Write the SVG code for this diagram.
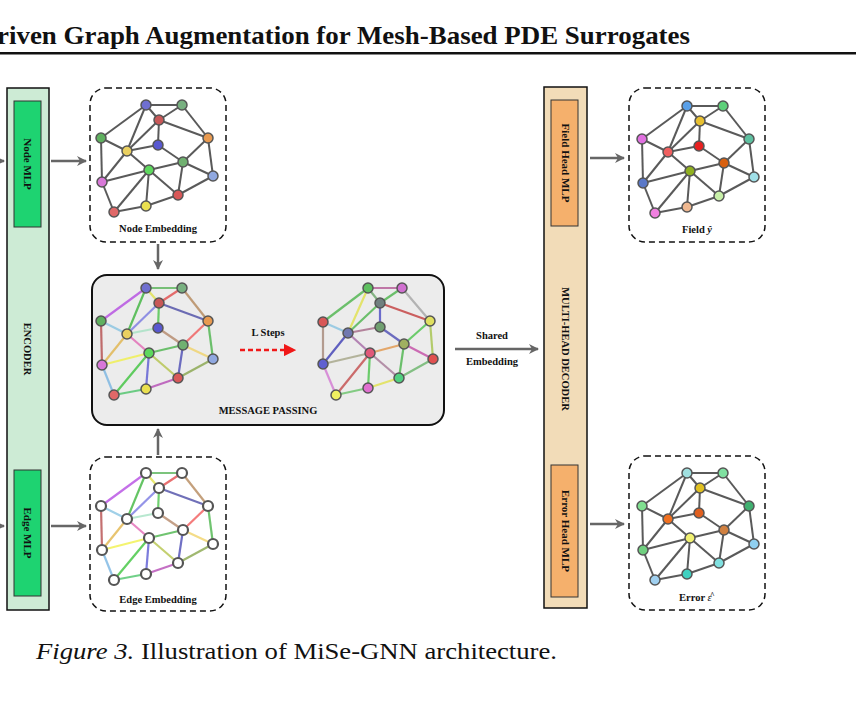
<svg xmlns="http://www.w3.org/2000/svg" xmlns:xlink="http://www.w3.org/1999/xlink" width="856" height="702" viewBox="0 0 856 702">
<style>
.t{font-family:"Liberation Serif",serif;font-weight:bold;fill:#111}
.dash{fill:#fff;stroke:#111;stroke-width:1.5;stroke-dasharray:6,4}
.ge line{stroke:#5a5a5a;stroke-width:2}
.ce line{stroke-width:2.2;stroke-opacity:0.75}
.n circle{stroke:#555;stroke-width:1.5}
.w circle{fill:#fff;stroke:#555;stroke-width:2.2}
.arr{stroke:#666;stroke-width:2.5;fill:none;marker-end:url(#ah)}
</style>
<defs>
<marker id="ah" viewBox="0 0 10 10" refX="9" refY="5" markerWidth="4" markerHeight="4" orient="auto"><path d="M0,0 L10,5 L0,10 L3,5 z" fill="#666"/></marker>
<marker id="rh" viewBox="0 0 10 10" refX="9" refY="5" markerWidth="5" markerHeight="5" orient="auto"><path d="M0,0 L10,5 L0,10 z" fill="#f01818"/></marker>
<g id="gray" class="ge">
<line x1="146" y1="105" x2="182" y2="105"/><line x1="146" y1="105" x2="159" y2="120"/><line x1="146" y1="105" x2="101" y2="138"/><line x1="146" y1="105" x2="127" y2="151"/>
<line x1="182" y1="105" x2="159" y2="120"/><line x1="182" y1="105" x2="208" y2="138"/><line x1="159" y1="120" x2="127" y2="151"/><line x1="159" y1="120" x2="158" y2="145"/>
<line x1="159" y1="120" x2="208" y2="138"/><line x1="101" y1="138" x2="127" y2="151"/><line x1="101" y1="138" x2="102" y2="182"/><line x1="127" y1="151" x2="158" y2="145"/>
<line x1="127" y1="151" x2="149" y2="170"/><line x1="127" y1="151" x2="102" y2="182"/><line x1="158" y1="145" x2="183" y2="162"/><line x1="183" y1="162" x2="149" y2="170"/>
<line x1="149" y1="170" x2="102" y2="182"/><line x1="149" y1="170" x2="178" y2="195"/><line x1="149" y1="170" x2="146" y2="206"/><line x1="149" y1="170" x2="114" y2="212"/>
<line x1="183" y1="162" x2="213" y2="176"/><line x1="183" y1="162" x2="178" y2="195"/><line x1="208" y1="138" x2="183" y2="162"/><line x1="208" y1="138" x2="213" y2="176"/>
<line x1="102" y1="182" x2="114" y2="212"/><line x1="114" y1="212" x2="146" y2="206"/><line x1="146" y1="206" x2="178" y2="195"/><line x1="178" y1="195" x2="213" y2="176"/>
</g>
<g id="col" class="ce">
<line x1="146" y1="105" x2="182" y2="105" stroke="#50b050"/><line x1="146" y1="105" x2="159" y2="120" stroke="#e0e040"/><line x1="146" y1="105" x2="101" y2="138" stroke="#b040e0"/><line x1="146" y1="105" x2="127" y2="151" stroke="#30b030"/>
<line x1="182" y1="105" x2="159" y2="120" stroke="#e04040"/><line x1="182" y1="105" x2="208" y2="138" stroke="#b08050"/><line x1="159" y1="120" x2="127" y2="151" stroke="#7070e0"/><line x1="159" y1="120" x2="158" y2="145" stroke="#40c040"/>
<line x1="159" y1="120" x2="208" y2="138" stroke="#4040a0"/><line x1="101" y1="138" x2="127" y2="151" stroke="#80c0e0"/><line x1="101" y1="138" x2="102" y2="182" stroke="#b04040"/><line x1="127" y1="151" x2="158" y2="145" stroke="#a0e0c0"/>
<line x1="127" y1="151" x2="149" y2="170" stroke="#e060b0"/><line x1="127" y1="151" x2="102" y2="182" stroke="#e0b040"/><line x1="158" y1="145" x2="183" y2="162" stroke="#b08060"/><line x1="183" y1="162" x2="149" y2="170" stroke="#40b040"/>
<line x1="149" y1="170" x2="102" y2="182" stroke="#f0f040"/><line x1="149" y1="170" x2="178" y2="195" stroke="#b0c040"/><line x1="149" y1="170" x2="146" y2="206" stroke="#5050d0"/><line x1="149" y1="170" x2="114" y2="212" stroke="#30c030"/>
<line x1="183" y1="162" x2="213" y2="176" stroke="#f0d060"/><line x1="183" y1="162" x2="178" y2="195" stroke="#4040b0"/><line x1="208" y1="138" x2="183" y2="162" stroke="#f05050"/><line x1="208" y1="138" x2="213" y2="176" stroke="#40b040"/>
<line x1="102" y1="182" x2="114" y2="212" stroke="#70b0e0"/><line x1="114" y1="212" x2="146" y2="206" stroke="#40c060"/><line x1="146" y1="206" x2="178" y2="195" stroke="#b040b0"/><line x1="178" y1="195" x2="213" y2="176" stroke="#80a040"/>
</g>
</defs>

<text class="t" x="-3" y="44" font-size="26" textLength="693" lengthAdjust="spacingAndGlyphs">riven Graph Augmentation for Mesh-Based PDE Surrogates</text>
<rect x="0" y="52" width="856" height="2.5" fill="#111"/>

<g id="encoder">
<rect x="7" y="88" width="42" height="522" fill="#cdebd5" stroke="#111" stroke-width="1.5"/>
<rect x="14" y="101" width="27" height="126" fill="#1ed371" stroke="#333"/>
<rect x="14" y="470" width="27" height="126" fill="#1ed371" stroke="#333"/>
<text class="t" font-size="11" transform="translate(24,164) rotate(90)" text-anchor="middle">Node MLP</text>
<text class="t" font-size="11" transform="translate(24,533) rotate(90)" text-anchor="middle">Edge MLP</text>
<text class="t" font-size="10.5" transform="translate(24,349) rotate(90)" text-anchor="middle" font-weight="normal">ENCODER</text>
</g>

<g id="decoder">
<rect x="544" y="87" width="43" height="521" fill="#f2dcb8" stroke="#111" stroke-width="1.5"/>
<rect x="551" y="100" width="27" height="126" fill="#f5b06c" stroke="#333"/>
<rect x="551" y="465" width="27" height="132" fill="#f5b06c" stroke="#333"/>
<text class="t" font-size="11" transform="translate(562,163) rotate(90)" text-anchor="middle">Field Head MLP</text>
<text class="t" font-size="11" transform="translate(562,531) rotate(90)" text-anchor="middle">Error Head MLP</text>
<text class="t" font-size="10.5" transform="translate(562,349) rotate(90)" text-anchor="middle" font-weight="normal">MULTI-HEAD DECODER</text>
</g>

<g id="connectors">
<line class="arr" x1="0" y1="161" x2="4" y2="161"/>
<line class="arr" x1="0" y1="526" x2="4" y2="526"/>
<line class="arr" x1="51" y1="161" x2="86" y2="161"/>
<line class="arr" x1="51" y1="526" x2="86" y2="526"/>
<line class="arr" x1="158" y1="244" x2="158" y2="269"/>
<line class="arr" x1="158" y1="455" x2="158" y2="429"/>
<line class="arr" x1="455" y1="349" x2="538" y2="349"/>
<line class="arr" x1="590" y1="158" x2="624" y2="158"/>
<line class="arr" x1="590" y1="524" x2="624" y2="524"/>
<text class="t" x="492" y="339" font-size="10.5" text-anchor="middle">Shared</text>
<text class="t" x="492" y="365" font-size="10.5" text-anchor="middle">Embedding</text>
</g>

<g id="node-embedding">
<rect class="dash" x="90" y="88" width="136" height="154" rx="16"/>
<use xlink:href="#gray"/>
<g class="n">
<circle cx="146" cy="105" r="5" fill="#6f6fd0"/><circle cx="182" cy="105" r="5" fill="#78b080"/><circle cx="159" cy="120" r="5" fill="#c85858"/><circle cx="101" cy="138" r="5" fill="#5fb05f"/>
<circle cx="208" cy="138" r="5" fill="#e89a50"/><circle cx="127" cy="151" r="5" fill="#ead060"/><circle cx="158" cy="145" r="5" fill="#5858d0"/><circle cx="183" cy="162" r="5" fill="#70b070"/>
<circle cx="149" cy="170" r="5" fill="#5ed85e"/><circle cx="102" cy="182" r="5" fill="#d878d8"/><circle cx="213" cy="176" r="5" fill="#90a8e0"/><circle cx="178" cy="195" r="5" fill="#d85858"/>
<circle cx="146" cy="206" r="5" fill="#eae050"/><circle cx="114" cy="212" r="5" fill="#e06868"/>
</g>
<text class="t" x="158" y="232" font-size="10.5" text-anchor="middle">Node Embedding</text>
</g>

<g id="edge-embedding">
<rect class="dash" x="90" y="457" width="136" height="154" rx="16"/>
<use xlink:href="#col" transform="translate(0,368)"/>
<g class="w" transform="translate(0,368)">
<circle cx="146" cy="105" r="5"/><circle cx="182" cy="105" r="5"/><circle cx="159" cy="120" r="5"/><circle cx="101" cy="138" r="5"/>
<circle cx="208" cy="138" r="5"/><circle cx="127" cy="151" r="5"/><circle cx="158" cy="145" r="5"/><circle cx="183" cy="162" r="5"/>
<circle cx="149" cy="170" r="5"/><circle cx="102" cy="182" r="5"/><circle cx="213" cy="176" r="5"/><circle cx="178" cy="195" r="5"/>
<circle cx="146" cy="206" r="5"/><circle cx="114" cy="212" r="5"/>
</g>
<text class="t" x="158" y="603" font-size="10.5" text-anchor="middle">Edge Embedding</text>
</g>

<g id="message-passing">
<rect x="92" y="275" width="352" height="150" rx="15" fill="#ececec" stroke="#111" stroke-width="2"/>
<use xlink:href="#col" transform="translate(0,183)"/>
<g class="n" transform="translate(0,183)">
<circle cx="146" cy="105" r="5" fill="#6f6fd0"/><circle cx="182" cy="105" r="5" fill="#78b080"/><circle cx="159" cy="120" r="5" fill="#c85858"/><circle cx="101" cy="138" r="5" fill="#5fb05f"/>
<circle cx="208" cy="138" r="5" fill="#e89a50"/><circle cx="127" cy="151" r="5" fill="#ead060"/><circle cx="158" cy="145" r="5" fill="#5858d0"/><circle cx="183" cy="162" r="5" fill="#70b070"/>
<circle cx="149" cy="170" r="5" fill="#5ed85e"/><circle cx="102" cy="182" r="5" fill="#d878d8"/><circle cx="213" cy="176" r="5" fill="#90a8e0"/><circle cx="178" cy="195" r="5" fill="#d85858"/>
<circle cx="146" cy="206" r="5" fill="#eae050"/><circle cx="114" cy="212" r="5" fill="#e06868"/>
</g>
<g class="ce">
<line x1="368" y1="288" x2="402" y2="288" stroke="#b05090"/><line x1="368" y1="288" x2="380" y2="303" stroke="#60a060"/><line x1="368" y1="288" x2="323" y2="322" stroke="#40b040"/><line x1="368" y1="288" x2="348" y2="333" stroke="#e0e040"/>
<line x1="402" y1="288" x2="380" y2="303" stroke="#40b040"/><line x1="402" y1="288" x2="430" y2="321" stroke="#a0a0a0"/><line x1="380" y1="303" x2="348" y2="333" stroke="#40b040"/><line x1="380" y1="303" x2="380" y2="327" stroke="#4040c0"/>
<line x1="380" y1="303" x2="430" y2="321" stroke="#c03030"/><line x1="323" y1="322" x2="348" y2="333" stroke="#80c0e0"/><line x1="323" y1="322" x2="323" y2="364" stroke="#a08070"/><line x1="348" y1="333" x2="380" y2="327" stroke="#a06080"/>
<line x1="348" y1="333" x2="370" y2="353" stroke="#a060a0"/><line x1="348" y1="333" x2="323" y2="364" stroke="#3030b0"/><line x1="380" y1="327" x2="404" y2="344" stroke="#4040b0"/><line x1="404" y1="344" x2="370" y2="353" stroke="#e09040"/>
<line x1="370" y1="353" x2="323" y2="364" stroke="#a0a080"/><line x1="370" y1="353" x2="399" y2="378" stroke="#a07090"/><line x1="370" y1="353" x2="368" y2="388" stroke="#40c040"/><line x1="370" y1="353" x2="336" y2="395" stroke="#c04040"/>
<line x1="404" y1="344" x2="433" y2="359" stroke="#c040a0"/><line x1="404" y1="344" x2="399" y2="378" stroke="#40b040"/><line x1="430" y1="321" x2="404" y2="344" stroke="#40c040"/><line x1="430" y1="321" x2="433" y2="359" stroke="#a0c040"/>
<line x1="323" y1="364" x2="336" y2="395" stroke="#d070d0"/><line x1="336" y1="395" x2="368" y2="388" stroke="#60c060"/><line x1="368" y1="388" x2="399" y2="378" stroke="#e0e040"/><line x1="399" y1="378" x2="433" y2="359" stroke="#60b060"/>
</g>
<g class="n">
<circle cx="368" cy="288" r="5" fill="#5ec060"/><circle cx="402" cy="288" r="5" fill="#d070d0"/><circle cx="380" cy="303" r="5" fill="#708080"/><circle cx="323" cy="322" r="5" fill="#d85858"/>
<circle cx="430" cy="321" r="5" fill="#e0e060"/><circle cx="348" cy="333" r="5" fill="#7078b0"/><circle cx="380" cy="327" r="5" fill="#70a070"/><circle cx="404" cy="344" r="5" fill="#a0b060"/>
<circle cx="370" cy="353" r="5" fill="#e05878"/><circle cx="323" cy="364" r="5" fill="#6060d0"/><circle cx="433" cy="359" r="5" fill="#e05050"/><circle cx="399" cy="378" r="5" fill="#50d080"/>
<circle cx="368" cy="388" r="5" fill="#e070d0"/><circle cx="336" cy="395" r="5" fill="#f0f060"/>
</g>
<text class="t" x="268" y="336" font-size="10.5" text-anchor="middle">L Steps</text>
<line x1="240" y1="350" x2="295" y2="350" stroke="#f01818" stroke-width="2.5" stroke-dasharray="5,3" marker-end="url(#rh)"/>
<text class="t" x="268" y="414" font-size="10.5" text-anchor="middle">MESSAGE PASSING</text>
</g>

<g id="field">
<rect class="dash" x="629" y="88" width="136" height="154" rx="16"/>
<use xlink:href="#gray" transform="translate(541,1)"/>
<g class="n" transform="translate(541,1)">
<circle cx="146" cy="105" r="5" fill="#5aa0e8"/><circle cx="182" cy="105" r="5" fill="#5ed07a"/><circle cx="159" cy="120" r="5" fill="#e8c030"/><circle cx="101" cy="138" r="5" fill="#e070e0"/>
<circle cx="208" cy="138" r="5" fill="#5ec0a0"/><circle cx="127" cy="151" r="5" fill="#f06060"/><circle cx="158" cy="145" r="5" fill="#e82020"/><circle cx="183" cy="162" r="5" fill="#d86010"/>
<circle cx="149" cy="170" r="5" fill="#90b020"/><circle cx="102" cy="182" r="5" fill="#5a78c8"/><circle cx="213" cy="176" r="5" fill="#a0e0e8"/><circle cx="178" cy="195" r="5" fill="#c8f0a8"/>
<circle cx="146" cy="206" r="5" fill="#f0b890"/><circle cx="114" cy="212" r="5" fill="#f080e0"/>
</g>
<text class="t" x="697" y="233" font-size="10.5" text-anchor="middle">Field <tspan font-style="italic">ŷ</tspan></text>
</g>

<g id="error">
<rect class="dash" x="629" y="456" width="136" height="154" rx="16"/>
<use xlink:href="#gray" transform="translate(541,368)"/>
<g class="n" transform="translate(541,368)">
<circle cx="146" cy="105" r="5" fill="#a0e0e0"/><circle cx="182" cy="105" r="5" fill="#80e0a0"/><circle cx="159" cy="120" r="5" fill="#e0c020"/><circle cx="101" cy="138" r="5" fill="#80e090"/>
<circle cx="208" cy="138" r="5" fill="#40b070"/><circle cx="127" cy="151" r="5" fill="#f07020"/><circle cx="158" cy="145" r="5" fill="#e06020"/><circle cx="183" cy="162" r="5" fill="#d08040"/>
<circle cx="149" cy="170" r="5" fill="#f0f070"/><circle cx="102" cy="182" r="5" fill="#70d080"/><circle cx="213" cy="176" r="5" fill="#90d0f0"/><circle cx="178" cy="195" r="5" fill="#80e0e0"/>
<circle cx="146" cy="206" r="5" fill="#40d0c0"/><circle cx="114" cy="212" r="5" fill="#a0d0f0"/>
</g>
<text class="t" x="679" y="601" font-size="10.5">Error <tspan font-style="italic" font-weight="normal">ε</tspan></text>
<text class="t" x="710" y="598" font-size="8" font-weight="normal">^</text>
</g>

<text x="36" y="659" font-family="'Liberation Serif',serif" font-size="24" fill="#111" textLength="521" lengthAdjust="spacingAndGlyphs"><tspan font-style="italic">Figure 3.</tspan> Illustration of MiSe-GNN architecture.</text>
</svg>
